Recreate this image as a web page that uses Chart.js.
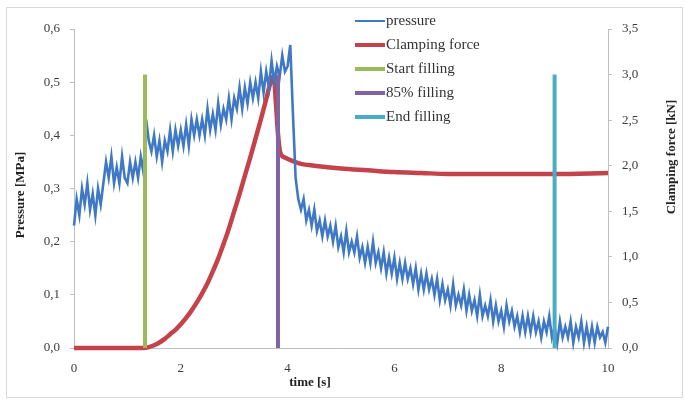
<!DOCTYPE html>
<html>
<head>
<meta charset="utf-8">
<script src="https://cdn.jsdelivr.net/npm/chart.js@4"></script>
<style>
  body { margin: 0; background: #fff; }
  #wrap { position: relative; width: 685px; height: 404px; }
  #frame { position: absolute; left: 6px; top: 7px; width: 675px; height: 389px; border: 1px solid #d9d9d9; }
  canvas { position: absolute; left: 0; top: 0; }
</style>
</head>
<body>
<div id="wrap">
  <div id="frame"></div>
  <canvas id="pressureChart" width="685" height="404"></canvas>
</div>
<script>
const pressureStep = 0.05;
const pressureMPa = [
  0.23, 0.28, 0.25, 0.30, 0.27, 0.31, 0.26, 0.29, 0.25, 0.30, 0.27,
  0.31, 0.35, 0.32, 0.36, 0.31, 0.34, 0.31, 0.36, 0.32, 0.31, 0.35, 0.32, 0.35, 0.32, 0.36, 0.33,
  0.43, 0.39, 0.37, 0.40, 0.36, 0.39, 0.35, 0.39, 0.37, 0.41,
  0.37, 0.41, 0.38, 0.41, 0.38, 0.42, 0.38, 0.43, 0.40, 0.43,
  0.40, 0.43, 0.40, 0.45, 0.41, 0.44, 0.41, 0.46, 0.42, 0.45,
  0.43, 0.47, 0.43, 0.47, 0.45, 0.49, 0.45, 0.49, 0.46, 0.50,
  0.47, 0.50, 0.47, 0.52, 0.48, 0.52, 0.49, 0.54, 0.50, 0.53,
  0.51, 0.55, 0.52, 0.53, 0.57, 0.44, 0.32, 0.28,
  0.26, 0.28, 0.24, 0.26, 0.23, 0.26, 0.22, 0.24, 0.21, 0.24,
  0.21, 0.23, 0.20, 0.23, 0.19, 0.21, 0.18, 0.22, 0.18, 0.20,
  0.18, 0.21, 0.17, 0.19, 0.16, 0.19, 0.16, 0.20, 0.16, 0.18,
  0.15, 0.18, 0.14, 0.17, 0.14, 0.17, 0.13, 0.16, 0.13, 0.16,
  0.13, 0.15, 0.12, 0.15, 0.11, 0.14, 0.11, 0.14, 0.11, 0.13,
  0.10, 0.13, 0.09, 0.12, 0.09, 0.11, 0.08, 0.12, 0.08, 0.10,
  0.08, 0.11, 0.07, 0.10, 0.07, 0.09, 0.06, 0.10, 0.06, 0.08,
  0.06, 0.09, 0.05, 0.08, 0.05, 0.07, 0.04, 0.08, 0.05, 0.07,
  0.04, 0.06, 0.03, 0.06, 0.03, 0.06, 0.03, 0.06, 0.03, 0.05,
  0.02, 0.05, 0.03, 0.06, 0.02, 0.04, 0.01, 0.05, 0.02, 0.04,
  0.02, 0.05, 0.01, 0.04, 0.02, 0.05, 0.01, 0.04, 0.01, 0.04,
  0.01, 0.04, 0.02, 0.03, 0.01, 0.04
];

// clamping force [kN]
const forceTime = [0, 1.3, 1.4, 1.5, 1.6, 1.7, 1.8, 1.9, 2.0, 2.1, 2.2, 2.3, 2.4, 2.5, 2.6, 2.7, 2.8, 2.9, 3.0,
  3.1, 3.2, 3.3, 3.4, 3.5, 3.6, 3.7, 3.74, 3.78, 3.82, 3.86, 3.95, 4.1, 4.25, 4.5, 5.0, 5.5, 6.0, 6.5, 7.0, 8.0, 9.0, 10.0];
const forceKN = [0, 0, 0.01, 0.03, 0.06, 0.10, 0.15, 0.20, 0.26, 0.33, 0.41, 0.50, 0.60, 0.71, 0.84, 0.98, 1.14, 1.31, 1.50,
  1.69, 1.89, 2.09, 2.30, 2.51, 2.73, 2.95, 2.98, 2.70, 2.35, 2.15, 2.09, 2.05, 2.02, 2.00, 1.97, 1.95, 1.93, 1.92, 1.91, 1.91, 1.91, 1.92];

// filling markers (vertical lines on the force axis)
const markerLabels = ["Start filling", "85% filling", "End filling"];
const markerTime = [1.33, 3.82, 9.0];
const markerTopKN = 3.0;
const markerColors = ["#9bbb59", "#8064a2", "#4bacc6"];

const xTicks = [0, 2, 4, 6, 8, 10];
const pressureTicks = [0, 0.1, 0.2, 0.3, 0.4, 0.5, 0.6];
const forceTicks = [0, 0.5, 1, 1.5, 2, 2.5, 3, 3.5];

const serif = "'Liberation Serif', 'Times New Roman', serif";
const comma = (v) => v.toFixed(1).replace(".", ",");

function buildDatasets() {
  const sets = [];
  sets.push({
    label: "pressure",
    data: pressureMPa.map((p, i) => ({ x: +(i * pressureStep).toFixed(2), y: p })),
    borderColor: "#3f78c4",
    borderWidth: 2.6,
    yAxisID: "yP",
    order: 1,
  });
  sets.push({
    label: "Clamping force",
    data: forceTime.map((t, i) => ({ x: t, y: forceKN[i] })),
    borderColor: "#c4434a",
    borderWidth: 4.5,
    cubicInterpolationMode: "monotone",
    yAxisID: "yF",
    order: 2,
  });
  markerLabels.forEach((name, i) => {
    sets.push({
      label: name,
      data: [{ x: markerTime[i], y: 0 }, { x: markerTime[i], y: markerTopKN }],
      borderColor: markerColors[i],
      borderWidth: 4,
      yAxisID: "yF",
      order: 0,
    });
  });
  return sets;
}

// legend inside the plot, and the axis titles where the reference has them
const decorations = {
  id: "decorations",
  afterDraw(chart) {
    const c = chart.ctx;
    c.save();
    c.textBaseline = "middle";
    chart.data.datasets.forEach((ds, i) => {
      const y = 21 + i * 24;
      c.strokeStyle = ds.borderColor;
      c.lineWidth = i === 0 ? 2 : 4;
      c.beginPath();
      c.moveTo(355, y);
      c.lineTo(385, y);
      c.stroke();
      c.fillStyle = "#333";
      c.font = "15px " + serif;
      c.textAlign = "left";
      c.fillText(ds.label, 386, y);
    });

    c.fillStyle = "#222";
    c.font = "bold 13px " + serif;
    c.textAlign = "center";
    c.fillText("time [s]", 310, 383);

    c.translate(21, 195);
    c.rotate(-Math.PI / 2);
    c.fillText("Pressure [MPa]", 0, 0);
    c.setTransform(1, 0, 0, 1, 0, 0);
    c.translate(672, 157);
    c.rotate(-Math.PI / 2);
    c.fillText("Clamping force [kN]", 0, 0);
    c.restore();
  },
};

function renderChart() {
  const ctx = document.getElementById("pressureChart").getContext("2d");
  const axisColor = "#bfbfbf";
  const tickFont = { family: serif, size: 13 };

  new Chart(ctx, {
    type: "line",
    data: { datasets: buildDatasets() },
    options: {
      responsive: false,
      animation: false,
      elements: { point: { radius: 0 }, line: { tension: 0 } },
      datasets: { line: { clip: false } },
      layout: { padding: { top: 29, left: 0, right: 0, bottom: 0 } },
      plugins: { legend: { display: false }, tooltip: { enabled: false } },
      scales: {
        x: {
          type: "linear",
          min: 0,
          max: 10,
          afterBuildTicks: (s) => { s.ticks = xTicks.map((v) => ({ value: v })); },
          afterFit: (s) => { s.height = 56; },
          grid: { drawOnChartArea: false, drawTicks: false },
          border: { color: axisColor },
          ticks: { font: tickFont, color: "#3a3a3a", padding: 13, maxRotation: 0 },
        },
        yP: {
          position: "left",
          min: 0,
          max: 0.6,
          afterBuildTicks: (s) => { s.ticks = pressureTicks.map((v) => ({ value: v })); },
          afterFit: (s) => { s.width = 74; },
          grid: { drawOnChartArea: false, tickLength: 4, color: axisColor },
          border: { color: axisColor },
          ticks: { font: tickFont, color: "#3a3a3a", padding: 10, callback: (v) => comma(v) },
        },
        yF: {
          position: "right",
          min: 0,
          max: 3.5,
          afterBuildTicks: (s) => { s.ticks = forceTicks.map((v) => ({ value: v })); },
          afterFit: (s) => { s.width = 77; },
          grid: { drawOnChartArea: false, tickLength: 4, color: axisColor },
          border: { color: axisColor },
          ticks: { font: tickFont, color: "#3a3a3a", padding: 10, callback: (v) => comma(v) },
        },
      },
    },
    plugins: [decorations],
  });
}

window.addEventListener("DOMContentLoaded", renderChart);
</script>
</body>
</html>
